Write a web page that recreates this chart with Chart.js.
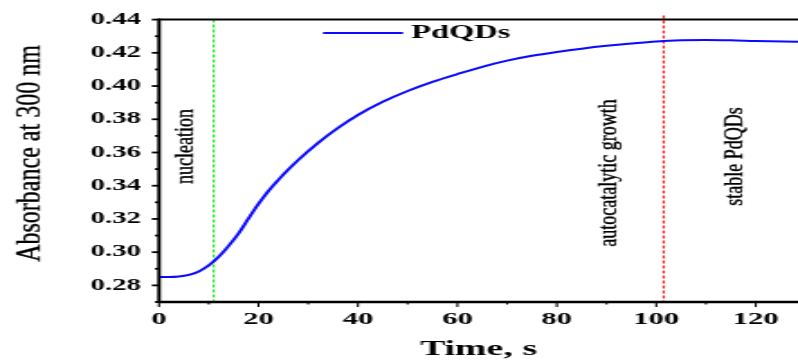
<!DOCTYPE html>
<html>
<head>
<meta charset="utf-8">
<script src="https://cdn.jsdelivr.net/npm/chart.js@4.4.1/dist/chart.umd.min.js"></script>
<style>
html, body { margin: 0; padding: 0; background: #fff; }
</style>
</head>
<body>
<!-- the picture is stretched sideways, so the canvas is drawn narrow and widened by css -->
<canvas id="pdqd" width="443" height="360" style="width:798px;height:360px;display:block"></canvas>
<script>
'use strict'

var time = [0, 2, 4, 6, 8, 10, 12, 14, 16, 18, 20, 22, 24, 26, 28, 32, 36, 40, 45, 50, 55, 60,
  65, 70, 75, 80, 85, 90, 95, 100, 105, 110, 115, 120, 128.5];

var absorbance = [0.2850, 0.2850, 0.2853, 0.2863, 0.2884, 0.2920, 0.2972, 0.3038, 0.3113, 0.3203,
  0.3290, 0.3368, 0.3435, 0.3497, 0.3555, 0.3658, 0.3748, 0.3826, 0.3905, 0.3970, 0.4025, 0.4072,
  0.4116, 0.4153, 0.4182, 0.4205, 0.4225, 0.4242, 0.4256, 0.4268, 0.4275, 0.4277,
  0.4275, 0.4271, 0.4266];

var xTickValues = [0, 20, 40, 60, 80, 100, 120];
var xMinorValues = [10, 30, 50, 70, 90, 110];
var yTickValues = [0.28, 0.30, 0.32, 0.34, 0.36, 0.38, 0.40, 0.42, 0.44];
var yMinorValues = [0.27, 0.29, 0.31, 0.33, 0.35, 0.37, 0.39, 0.41, 0.43];

// phase boundaries (s) and phase names
var phaseLines = [
  { t: 11, color: '#22ee22' },
  { t: 101.5, color: '#ff1a1a' }
];
var phaseLabels = [
  { text: 'nucleation', t: 5.3, a: 0.3636 },
  { text: 'autocatalytic growth', t: 90.7, a: 0.3476 },
  { text: 'stable PdQDs', t: 115.8, a: 0.3576 }
];

var SX = 798 / 443;          // css stretch
var K = 0.78;                // undo part of the stretch for upright text
var serif = '"Liberation Serif", "Times New Roman", serif';

function vText(ctx, text, x, y, size) {
  ctx.save();
  ctx.translate(x, y);
  ctx.scale(K, 1);
  ctx.rotate(-Math.PI / 2);
  ctx.font = size + 'px ' + serif;
  ctx.fillStyle = '#000';
  ctx.strokeStyle = '#000';
  ctx.lineWidth = 0.35;
  ctx.textAlign = 'center';
  ctx.textBaseline = 'middle';
  ctx.fillText(text, 0, 0);
  ctx.strokeText(text, 0, 0);
  ctx.restore();
}

var decor = {
  id: 'decor',
  beforeDatasetsDraw: function (chart) {
    var ctx = chart.ctx, a = chart.chartArea, xs = chart.scales.x;
    ctx.save();
    ctx.lineWidth = 1.2;
    ctx.setLineDash([3, 2]);
    phaseLines.forEach(function (p) {
      var px = xs.getPixelForValue(p.t);
      ctx.strokeStyle = p.color;
      ctx.beginPath();
      ctx.moveTo(px, a.top - (p.t > 50 ? 4 : 0));
      ctx.lineTo(px, a.bottom);
      ctx.stroke();
    });
    ctx.restore();
  },
  afterDraw: function (chart) {
    var ctx = chart.ctx, a = chart.chartArea;
    var xs = chart.scales.x, ys = chart.scales.y;
    ctx.save();
    ctx.strokeStyle = '#000';

    // top border
    ctx.lineWidth = 2;
    ctx.beginPath(); ctx.moveTo(a.left, a.top); ctx.lineTo(a.right, a.top); ctx.stroke();
    // x axis
    ctx.lineWidth = 2.4;
    ctx.beginPath(); ctx.moveTo(a.left, a.bottom); ctx.lineTo(a.right, a.bottom); ctx.stroke();
    // y axis
    ctx.lineWidth = 2;
    ctx.beginPath(); ctx.moveTo(a.left, a.top - 1); ctx.lineTo(a.left, a.bottom + 1); ctx.stroke();

    // y ticks
    ctx.lineWidth = 1.8;
    yTickValues.forEach(function (v) {
      var py = ys.getPixelForValue(v);
      ctx.beginPath(); ctx.moveTo(a.left - 4, py); ctx.lineTo(a.left, py); ctx.stroke();
    });
    yMinorValues.forEach(function (v) {
      var py = ys.getPixelForValue(v);
      ctx.beginPath(); ctx.moveTo(a.left - 2.3, py); ctx.lineTo(a.left, py); ctx.stroke();
    });
    // x ticks
    ctx.lineWidth = 1.1;
    xTickValues.forEach(function (v) {
      var px = xs.getPixelForValue(v);
      ctx.beginPath(); ctx.moveTo(px, a.bottom); ctx.lineTo(px, a.bottom + 5); ctx.stroke();
    });
    xMinorValues.forEach(function (v) {
      var px = xs.getPixelForValue(v);
      ctx.beginPath(); ctx.moveTo(px, a.bottom); ctx.lineTo(px, a.bottom + 2.5); ctx.stroke();
    });

    // legend
    var ds = chart.data.datasets[0];
    ctx.strokeStyle = ds.borderColor;
    ctx.lineWidth = 2;
    ctx.beginPath(); ctx.moveTo(323 / SX, 33); ctx.lineTo(403 / SX, 33); ctx.stroke();
    ctx.fillStyle = '#000';
    ctx.font = 'bold 18px ' + serif;
    ctx.textAlign = 'left';
    ctx.textBaseline = 'middle';
    ctx.fillText(ds.label, 411 / SX, 33);

    // y title and phase names
    vText(ctx, 'Absorbance at 300 nm', 30 / SX, 153.5, 24);
    phaseLabels.forEach(function (p) {
      vText(ctx, p.text, xs.getPixelForValue(p.t), ys.getPixelForValue(p.a), 18);
    });
    ctx.restore();
  }
};

var points = time.map(function (t, i) { return { x: t, y: absorbance[i] }; });

var ctx = document.getElementById('pdqd');
var mychart = new Chart(ctx, {
  type: 'line',
  data: {
    datasets: [{
      label: 'PdQDs',
      data: points,
      borderColor: '#0a0aff',
      borderWidth: 2,
      pointRadius: 0,
      fill: false,
      cubicInterpolationMode: 'monotone'
    }]
  },
  options: {
    responsive: false,
    animation: false,
    devicePixelRatio: 1,
    layout: { padding: { top: 17, left: 0, right: 0, bottom: 0 } },
    plugins: { legend: { display: false }, tooltip: { enabled: false } },
    scales: {
      x: {
        type: 'linear',
        min: 0,
        max: 128.5,
        grid: { display: false, drawTicks: false },
        border: { display: false },
        afterBuildTicks: function (scale) {
          scale.ticks = xTickValues.map(function (v) { return { value: v }; });
        },
        afterFit: function (scale) { scale.height = 58; },
        ticks: {
          autoSkip: false,
          maxRotation: 0,
          padding: 7,
          color: '#000',
          font: { family: serif, size: 17, weight: 'bold' }
        },
        title: {
          display: true,
          text: 'Time, s',
          color: '#000',
          padding: 0,
          font: { family: serif, size: 21, weight: 'bold', lineHeight: 1 }
        }
      },
      y: {
        min: 0.27,
        max: 0.44,
        grid: { display: false, drawTicks: false },
        border: { display: false },
        afterBuildTicks: function (scale) {
          scale.ticks = yTickValues.map(function (v) { return { value: v }; });
        },
        afterFit: function (scale) { scale.width = 159 / SX; },
        ticks: {
          autoSkip: false,
          padding: 10,
          color: '#000',
          font: { family: serif, size: 16, weight: 'bold' },
          callback: function (v) { return v.toFixed(2); }
        }
      }
    }
  },
  plugins: [decor]
});
</script>
</body>
</html>
